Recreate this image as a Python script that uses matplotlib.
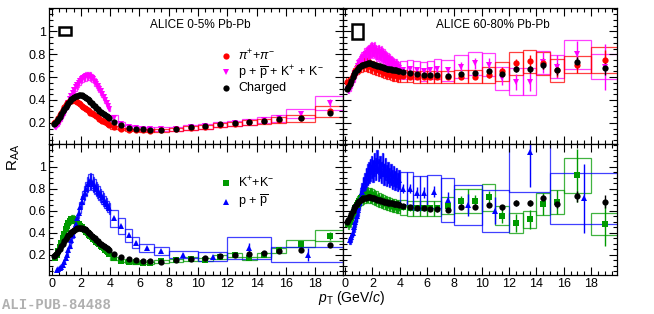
import matplotlib
matplotlib.use("Agg")
import matplotlib.pyplot as plt
from matplotlib.ticker import MultipleLocator, FormatStrFormatter
import numpy as np

plt.rcParams['font.family'] = ['Liberation Sans', 'DejaVu Sans']
plt.rcParams['mathtext.fontset'] = 'custom'
plt.rcParams['mathtext.rm'] = 'Liberation Sans'
plt.rcParams['mathtext.it'] = 'Liberation Sans:italic'

nan = np.nan

# ---- pT binning ----
LOW_PT = [0.15, 0.25, 0.35, 0.45, 0.55, 0.65, 0.75, 0.85, 0.95,
          1.05, 1.15, 1.25, 1.35, 1.45, 1.55, 1.65, 1.75, 1.85, 1.95,
          2.05, 2.15, 2.25, 2.35, 2.45, 2.55, 2.65, 2.75, 2.85, 2.95,
          3.05, 3.15, 3.25, 3.35, 3.45, 3.55, 3.65, 3.75, 3.85, 3.95]
LOW_WIDTH = 0.1
HIGH_EDGES = [4, 4.5, 5, 5.5, 6, 6.5, 7, 8, 9, 10, 11, 12, 13, 14, 15, 16, 18, 20]
PROTON_EDGES = [4, 4.5, 5, 5.5, 6, 7, 8, 10, 12, 15, 20]

# ---- 0-5% ----
ch_c0_low = [0.19, 0.20, 0.215, 0.235, 0.255, 0.28, 0.30, 0.32, 0.34,
             0.36, 0.375, 0.39, 0.405, 0.415, 0.425, 0.432, 0.438, 0.442, 0.444,
             0.442, 0.437, 0.43, 0.42, 0.41, 0.398, 0.386, 0.373, 0.36, 0.347,
             0.334, 0.321, 0.308, 0.296, 0.285, 0.275, 0.265, 0.256, 0.248, 0.24]
ch_c0_high = [0.209, 0.177, 0.156, 0.147, 0.142, 0.139, 0.136, 0.15, 0.16,
              0.17, 0.187, 0.195, 0.21, 0.216, 0.23, 0.245, 0.29]
ch_c0_stat = [0.001, 0.001, 0.001, 0.001, 0.001, 0.001, 0.001, 0.001, 0.002,
              0.002, 0.002, 0.003, 0.003, 0.004, 0.005, 0.006, 0.01]

pi_c0_low = [0.20, 0.205, 0.22, 0.24, 0.265, 0.29, 0.315, 0.335, 0.355,
             0.37, 0.382, 0.39, 0.395, 0.397, 0.396, 0.392, 0.385, 0.375, 0.362,
             0.35, 0.34, 0.33, 0.32, 0.31, 0.30, 0.29, 0.282, 0.274, 0.265,
             0.256, 0.247, 0.238, 0.229, 0.22, 0.212, 0.205, 0.198, 0.19, 0.183]
pi_c0_high = [0.16, 0.148, 0.14, 0.136, 0.134, 0.133, 0.135, 0.145, 0.155,
              0.165, 0.18, 0.19, 0.205, 0.215, 0.225, 0.24, 0.30]
pi_c0_sys = [0.012, 0.011, 0.011, 0.011, 0.011, 0.011, 0.012, 0.013, 0.015,
             0.016, 0.018, 0.019, 0.021, 0.022, 0.023, 0.03, 0.045]
pi_c0_stat = [0.002, 0.002, 0.002, 0.002, 0.002, 0.002, 0.002, 0.003, 0.003,
              0.004, 0.005, 0.006, 0.007, 0.008, 0.01, 0.01, 0.015]

pk_c0_low = [nan, 0.16, 0.17, 0.185, 0.205, 0.23, 0.255, 0.285, 0.315,
             0.345, 0.375, 0.405, 0.435, 0.46, 0.485, 0.51, 0.53, 0.55, 0.565,
             0.58, 0.59, 0.60, 0.607, 0.61, 0.61, 0.605, 0.595, 0.58, 0.56,
             0.54, 0.52, 0.50, 0.475, 0.45, 0.425, 0.40, 0.375, 0.35, 0.325]
pk_c0_high = [0.24, 0.19, 0.165, 0.155, 0.148, 0.145, 0.145, 0.15, 0.16,
              0.17, 0.185, 0.195, 0.21, 0.225, 0.24, 0.28, 0.375]
pk_c0_sys = [0.025, 0.02, 0.017, 0.016, 0.015, 0.015, 0.015, 0.017, 0.019,
             0.02, 0.022, 0.024, 0.026, 0.028, 0.03, 0.04, 0.06]
pk_c0_stat = [0.003, 0.003, 0.003, 0.003, 0.003, 0.003, 0.004, 0.005, 0.006,
              0.007, 0.008, 0.009, 0.011, 0.013, 0.015, 0.02, 0.035]

k_c0_low = [nan, 0.17, 0.2, 0.235, 0.27, 0.31, 0.35, 0.39, 0.43,
            0.46, 0.49, 0.51, 0.52, 0.52, 0.515, 0.505, 0.49, 0.475, 0.46,
            0.447, 0.434, 0.421, 0.408, 0.395, 0.382, 0.369, 0.356, 0.343, 0.33,
            0.318, 0.306, 0.294, 0.282, 0.27, 0.258, 0.246, 0.234, 0.222, 0.21]
k_c0_high = [0.165, 0.145, 0.135, 0.13, 0.125, 0.125, 0.14, 0.15, 0.16,
             0.155, 0.18, 0.2, 0.165, 0.2, 0.24, 0.3, 0.37]
k_c0_sys = [0.015, 0.013, 0.012, 0.012, 0.012, 0.012, 0.013, 0.014, 0.015,
            0.015, 0.017, 0.019, 0.016, 0.019, 0.023, 0.035, 0.05]
k_c0_stat = [0.002, 0.002, 0.002, 0.002, 0.002, 0.003, 0.003, 0.004, 0.005,
             0.006, 0.008, 0.01, 0.012, 0.014, 0.017, 0.02, 0.04]

p_c0_low = [nan, nan, 0.06, 0.065, 0.075, 0.09, 0.11, 0.135, 0.165,
            0.2, 0.24, 0.28, 0.33, 0.38, 0.43, 0.48, 0.53, 0.58, 0.63,
            0.68, 0.72, 0.76, 0.80, 0.84, 0.86, 0.87, 0.86, 0.84, 0.82,
            0.80, 0.78, 0.76, 0.74, 0.72, 0.70, 0.68, 0.66, 0.64, 0.62]
p_c0_high = [0.53, 0.46, 0.375, 0.31, 0.26, 0.23, 0.2, 0.18, 0.26, 0.2]
p_c0_sys = [0.08, 0.07, 0.06, 0.05, 0.04, 0.035, 0.03, 0.04, 0.1, 0.07]
p_c0_stat = [0.01, 0.01, 0.01, 0.01, 0.01, 0.01, 0.015, 0.02, 0.05, 0.06]

# ---- 60-80% ----
ch_c1_low = [0.50, 0.515, 0.54, 0.57, 0.60, 0.625, 0.645, 0.66, 0.675,
             0.685, 0.695, 0.705, 0.71, 0.715, 0.718, 0.72, 0.72, 0.72, 0.718,
             0.715, 0.71, 0.705, 0.70, 0.698, 0.695, 0.69, 0.685, 0.68, 0.678,
             0.675, 0.672, 0.67, 0.668, 0.665, 0.663, 0.66, 0.66, 0.658, 0.655]
ch_c1_high = [0.645, 0.635, 0.625, 0.62, 0.615, 0.615, 0.61, 0.63, 0.634,
              0.65, 0.63, 0.67, 0.67, 0.71, 0.66, 0.73, 0.68]
ch_c1_stat = [0.005, 0.006, 0.007, 0.008, 0.009, 0.01, 0.01, 0.012, 0.015,
              0.018, 0.02, 0.025, 0.03, 0.035, 0.04, 0.05, 0.06]

pi_c1_low = [0.56, 0.55, 0.56, 0.58, 0.61, 0.63, 0.65, 0.67, 0.68,
             0.69, 0.70, 0.705, 0.71, 0.71, 0.71, 0.705, 0.70, 0.695, 0.69,
             0.685, 0.68, 0.675, 0.67, 0.665, 0.66, 0.655, 0.65, 0.645, 0.64,
             0.635, 0.63, 0.63, 0.625, 0.62, 0.62, 0.615, 0.615, 0.61, 0.61]
pi_c1_high = [0.61, 0.605, 0.6, 0.6, 0.6, 0.6, 0.6, 0.605, 0.605,
              0.62, 0.65, 0.72, 0.74, 0.72, 0.66, 0.71, 0.75]
pi_c1_sys = [0.05, 0.05, 0.05, 0.05, 0.05, 0.05, 0.05, 0.06, 0.06,
             0.07, 0.08, 0.1, 0.1, 0.1, 0.1, 0.075, 0.11]
pi_c1_stat = [0.01, 0.01, 0.01, 0.012, 0.012, 0.015, 0.015, 0.02, 0.025,
              0.03, 0.035, 0.04, 0.05, 0.05, 0.06, 0.07, 0.09]

pk_c1_low = [nan, 0.5, 0.52, 0.55, 0.58, 0.61, 0.64, 0.67, 0.70,
             0.72, 0.74, 0.76, 0.77, 0.79, 0.80, 0.81, 0.82, 0.83, 0.84,
             0.83, 0.84, 0.82, 0.81, 0.82, 0.80, 0.81, 0.79, 0.78, 0.77,
             0.76, 0.75, 0.74, 0.73, 0.72, 0.71, 0.70, 0.70, 0.69, 0.68]
pk_c1_high = [0.66, 0.67, 0.66, 0.65, 0.66, 0.67, 0.66, 0.69, 0.72,
              0.71, 0.59, 0.56, 0.56, 0.73, 0.69, 0.8, 0.69]
pk_c1_sys = [0.08, 0.08, 0.08, 0.08, 0.08, 0.09, 0.09, 0.1, 0.1,
             0.1, 0.1, 0.12, 0.12, 0.1, 0.1, 0.125, 0.11]
pk_c1_stat = [0.02, 0.02, 0.02, 0.025, 0.025, 0.03, 0.03, 0.04, 0.05,
              0.06, 0.06, 0.07, 0.08, 0.09, 0.1, 0.12, 0.2]

k_c1_low = [nan, 0.48, 0.5, 0.53, 0.56, 0.59, 0.62, 0.65, 0.67,
            0.69, 0.71, 0.72, 0.73, 0.74, 0.74, 0.745, 0.74, 0.74, 0.735,
            0.73, 0.72, 0.715, 0.71, 0.70, 0.695, 0.69, 0.685, 0.68, 0.675,
            0.67, 0.665, 0.66, 0.655, 0.65, 0.65, 0.645, 0.64, 0.64, 0.635]
k_c1_high = [0.63, 0.62, 0.62, 0.62, 0.62, 0.62, 0.645, 0.69, 0.69,
             0.72, 0.555, 0.49, 0.52, 0.66, 0.675, 0.92, 0.48]
k_c1_sys = [0.07, 0.07, 0.07, 0.07, 0.07, 0.07, 0.08, 0.11, 0.11,
            0.12, 0.09, 0.09, 0.08, 0.1, 0.11, 0.16, 0.1]
k_c1_stat = [0.02, 0.02, 0.02, 0.025, 0.025, 0.03, 0.035, 0.04, 0.05,
             0.06, 0.07, 0.08, 0.09, 0.1, 0.11, 0.24, 0.2]

p_c1_low = [nan, nan, 0.33, 0.36, 0.40, 0.45, 0.50, 0.55, 0.61,
            0.67, 0.72, 0.77, 0.82, 0.86, 0.90, 0.93, 0.95, 0.97, 1.0,
            0.96, 1.02, 0.98, 1.05, 0.97, 1.0, 0.95, 1.02, 0.93, 0.98,
            0.92, 0.95, 0.90, 0.93, 0.88, 0.91, 0.87, 0.90, 0.86, 0.88]
p_c1_high = [0.8, 0.8, 0.76, 0.76, 0.77, 0.7, 0.65, 0.6, 1.13, 0.71]
p_c1_sys = [0.15, 0.15, 0.15, 0.15, 0.15, 0.2, 0.18, 0.19, 0.36, 0.23]
p_c1_stat = [0.04, 0.04, 0.05, 0.05, 0.05, 0.07, 0.1, 0.12, 0.32, 0.31]

# relative uncertainties (sys, stat) of the dense low-pT points
REL_C0 = {'pi': (0.05, 0.004), 'pk': (0.06, 0.006), 'k': (0.07, 0.006), 'p': (0.08, 0.01)}
REL_C1 = {'pi': (0.08, 0.03), 'pk': (0.08, 0.07), 'k': (0.09, 0.06), 'p': (0.1, 0.1)}
NORM_UNC = [0.035, 0.065]

RED = '#ff0000'
MAG = '#ff00ff'
GREEN = '#009a00'
BLUE = '#0000ff'


def draw(ax, low, high, high_stat, high_sys, edges, rel, color, marker, ms, boxes=True):
    edges = np.array(edges, dtype=float)
    hpt = 0.5 * (edges[1:] + edges[:-1])
    hw = np.diff(edges)
    low = np.array(low, dtype=float)
    lpt = np.array(LOW_PT)
    ok = np.isfinite(low)
    pt = np.concatenate([lpt[ok], hpt])
    val = np.concatenate([low[ok], high])
    stat = np.concatenate([low[ok] * rel[1], high_stat])
    width = np.concatenate([np.full(ok.sum(), LOW_WIDTH), hw])
    if boxes:
        sys = np.concatenate([low[ok] * rel[0], high_sys])
        ax.bar(pt, 2 * sys, width=width, bottom=val - sys, fill=False,
               edgecolor=color, linewidth=0.9, alpha=0.75)
    ax.errorbar(pt, val, yerr=stat, fmt=marker, color=color, ms=ms,
                elinewidth=1.0, capsize=0, mew=0)


W, H = 654, 314
fig = plt.figure(figsize=(W / 100, H / 100), dpi=100)
ax_tl = fig.add_axes([49 / W, 1 - 144 / H, 294 / W, 136 / H])
ax_tr = fig.add_axes([343 / W, 1 - 144 / H, 274 / W, 136 / H])
ax_bl = fig.add_axes([49 / W, 1 - 275 / H, 294 / W, 131 / H])
ax_br = fig.add_axes([343 / W, 1 - 275 / H, 274 / W, 131 / H])

# top-left: 0-5%, pi and p+K
draw(ax_tl, pk_c0_low, pk_c0_high, pk_c0_stat, pk_c0_sys, HIGH_EDGES, REL_C0['pk'], MAG, 'v', 4.5)
draw(ax_tl, pi_c0_low, pi_c0_high, pi_c0_stat, pi_c0_sys, HIGH_EDGES, REL_C0['pi'], RED, 'o', 4.5)
draw(ax_tl, ch_c0_low, ch_c0_high, ch_c0_stat, None, HIGH_EDGES, (0, 0.002), 'black', 'o', 4.5, boxes=False)

# top-right: 60-80%
draw(ax_tr, pk_c1_low, pk_c1_high, pk_c1_stat, pk_c1_sys, HIGH_EDGES, REL_C1['pk'], MAG, 'v', 4.5)
draw(ax_tr, pi_c1_low, pi_c1_high, pi_c1_stat, pi_c1_sys, HIGH_EDGES, REL_C1['pi'], RED, 'o', 4.5)
draw(ax_tr, ch_c1_low, ch_c1_high, ch_c1_stat, None, HIGH_EDGES, (0, 0.005), 'black', 'o', 4.5, boxes=False)

# bottom-left: 0-5%, K and p
draw(ax_bl, k_c0_low, k_c0_high, k_c0_stat, k_c0_sys, HIGH_EDGES, REL_C0['k'], GREEN, 's', 4.2)
draw(ax_bl, p_c0_low, p_c0_high, p_c0_stat, p_c0_sys, PROTON_EDGES, REL_C0['p'], BLUE, '^', 4.5)
draw(ax_bl, ch_c0_low, ch_c0_high, ch_c0_stat, None, HIGH_EDGES, (0, 0.002), 'black', 'o', 4.5, boxes=False)

# bottom-right: 60-80%
draw(ax_br, k_c1_low, k_c1_high, k_c1_stat, k_c1_sys, HIGH_EDGES, REL_C1['k'], GREEN, 's', 4.2)
draw(ax_br, p_c1_low, p_c1_high, p_c1_stat, p_c1_sys, PROTON_EDGES, REL_C1['p'], BLUE, '^', 4.5)
draw(ax_br, ch_c1_low, ch_c1_high, ch_c1_stat, None, HIGH_EDGES, (0, 0.005), 'black', 'o', 4.5, boxes=False)

# normalisation boxes
for ax, unc in [(ax_tl, NORM_UNC[0]), (ax_tr, NORM_UNC[1])]:
    ax.bar(0.9, 2 * unc, width=0.8, bottom=1 - unc, fill=False, edgecolor='black', linewidth=1.8)

for ax in [ax_tl, ax_tr, ax_bl, ax_br]:
    ax.set_ylim(0.015, 1.205)
    ax.set_xticks([0, 2, 4, 6, 8, 10, 12, 14, 16, 18])
    ax.set_yticks([0.2, 0.4, 0.6, 0.8, 1.0])
    ax.xaxis.set_minor_locator(MultipleLocator(0.5))
    ax.yaxis.set_minor_locator(MultipleLocator(0.05))
    ax.yaxis.set_major_formatter(FormatStrFormatter('%g'))
    ax.tick_params(which='both', direction='in', top=True, right=True, labelsize=9, pad=2)
    ax.tick_params(which='major', length=6, width=0.8)
    ax.tick_params(which='minor', length=3, width=0.8)
    for s in ax.spines.values():
        s.set_linewidth(0.9)
for ax in [ax_tl, ax_bl]:
    ax.set_xlim(-0.18, 19.9)
for ax in [ax_tr, ax_br]:
    ax.set_xlim(-0.15, 19.9)
    ax.tick_params(labelleft=False)
for ax in [ax_tl, ax_tr]:
    ax.tick_params(labelbottom=False)

# texts
ax_tl.text(0.344, 0.875, 'ALICE 0-5% Pb-Pb', transform=ax_tl.transAxes, fontsize=8.5, va='center')
ax_tr.text(0.339, 0.875, 'ALICE 60-80% Pb-Pb', transform=ax_tr.transAxes, fontsize=8.5, va='center')

legend_top = [(RED, 'o', r'$\pi^{+}$+$\pi^{-}$'),
              (MAG, 'v', r'p + $\overline{\mathrm{p}}$ + K$^{+}$ + K$^{-}$'),
              ('black', 'o', 'Charged')]
for i, (c, m, lab) in enumerate(legend_top):
    y = 0.647 - i * 0.118
    ax_tl.plot([0.602], [y], marker=m, color=c, ms=4.5, mew=0, transform=ax_tl.transAxes)
    ax_tl.text(0.643, y, lab, transform=ax_tl.transAxes, fontsize=9, va='center')

legend_bot = [(GREEN, 's', r'K$^{+}$+K$^{-}$'),
              (BLUE, '^', r'p + $\overline{\mathrm{p}}$')]
for i, (c, m, lab) in enumerate(legend_bot):
    y = 0.705 - i * 0.145
    ax_bl.plot([0.602], [y], marker=m, color=c, ms=4.5, mew=0, transform=ax_bl.transAxes)
    ax_bl.text(0.643, y, lab, transform=ax_bl.transAxes, fontsize=9, va='center')

fig.text(14 / W, 1 - 157 / H, r'R$_{\mathrm{AA}}$', rotation=90, fontsize=11, ha='center', va='center')
fig.text(352 / W, 1 - 298 / H, r'$p_{\mathrm{T}}$ (GeV/$c$)', fontsize=10, ha='center', va='center')
fig.text(2 / W, 1 - 305 / H, 'ALI-PUB-84488', family='Liberation Mono', fontsize=10,
         color='#b0b0b0', va='center', fontweight='bold')

fig.savefig('out.png', dpi=100)
